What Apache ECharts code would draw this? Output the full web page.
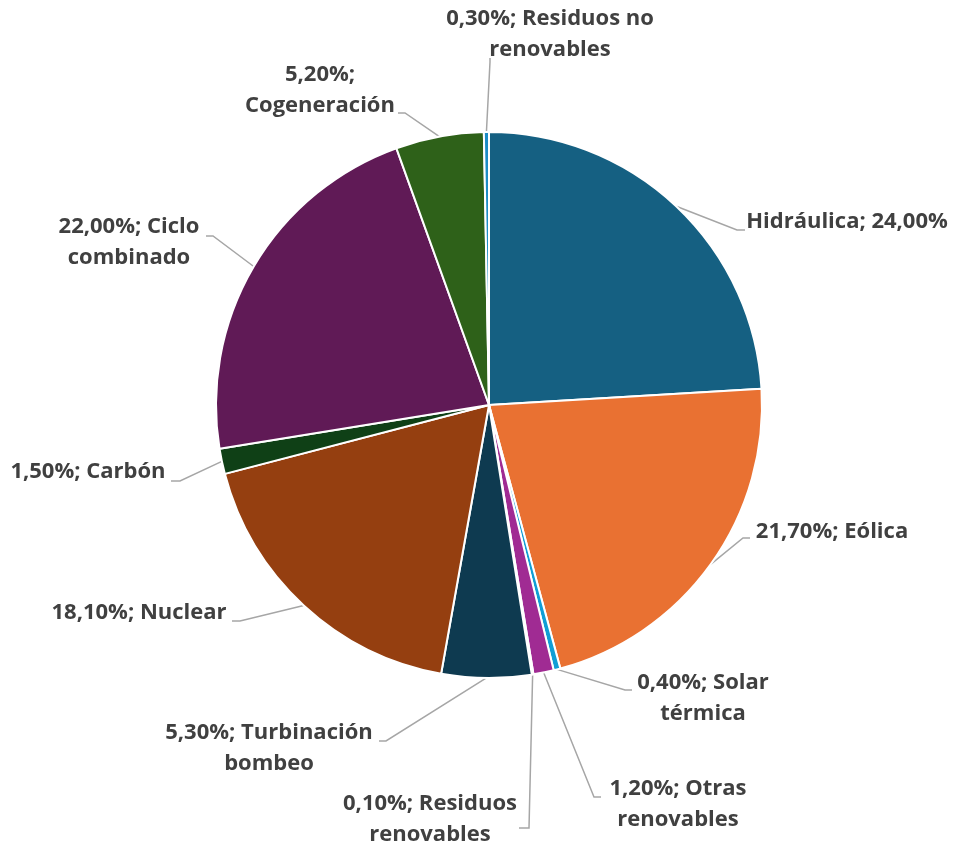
<!DOCTYPE html>
<html><head><meta charset="utf-8">
<script src="https://cdn.jsdelivr.net/npm/echarts@6/dist/echarts.min.js"></script>
<style>html,body{margin:0;padding:0;background:#fff}#c{width:955px;height:850px}</style>
</head><body><div id="c"></div>
<script>
var categories = ['Hidráulica','Eólica','Solar térmica','Otras renovables','Residuos renovables','Turbinación bombeo','Nuclear','Carbón','Ciclo combinado','Cogeneración','Residuos no renovables'];
var values = [24.00, 21.70, 0.40, 1.20, 0.10, 5.30, 18.10, 1.50, 22.00, 5.20, 0.30];
var colors = ['#156082','#E97132','#0F9ED5','#A02B93','#4EA72E','#0E3A50','#953F10','#0F4016','#601A56','#2E6119','#1C8CC6'];
var labelTexts = ['Hidráulica; 24,00%','21,70%; Eólica','0,40%; Solar\ntérmica','1,20%; Otras\nrenovables','0,10%; Residuos\nrenovables','5,30%; Turbinación\nbombeo','18,10%; Nuclear','1,50%; Carbón','22,00%; Ciclo\ncombinado','5,20%;\nCogeneración','0,30%; Residuos no\nrenovables'];

// label layout: text center x,y ; leader bend and end points
var labelPos = [
  {x:847, y:222, pts:[[737,230],[745,230]]},
  {x:832, y:532, pts:[[743,538],[750,538]]},
  {x:703, y:698, pts:[[625,690],[632,690]]},
  {x:678, y:804, pts:[[594,797],[601,797]]},
  {x:430, y:819, pts:[[529,828],[519,828]]},
  {x:269, y:748, pts:[[386,741],[379,741]]},
  {x:139, y:613, pts:[[240,621],[232,621]]},
  {x:88,  y:472, pts:[[180,481],[171,481]]},
  {x:129, y:242, pts:[[213,236],[206,236]]},
  {x:320, y:90,  pts:[[405,113],[398,113]]},
  {x:550, y:34,  pts:[[490,62],[490,58]]}
];

var data = categories.map(function(c,i){
  return {name:c, value:values[i], itemStyle:{color:colors[i]}, label:{formatter:labelTexts[i]}};
});

var chart = echarts.init(document.getElementById('c'));
chart.setOption({
  animation:false,
  series:[{
    type:'pie',
    center:[489,405],
    radius:[0,273],
    startAngle:90,
    clockwise:true,
    avoidLabelOverlap:false,
    minAngle:0,
    data:data,
    itemStyle:{borderColor:'#fff', borderWidth:2},
    label:{show:true, position:'outside', color:'#404040', fontFamily:'Open Sans', fontWeight:'bold', fontSize:22, lineHeight:31, align:'center'},
    labelLine:{show:true, length:20, length2:10, lineStyle:{color:'#A6A6A6', width:1.5}},
    labelLayout:function(p){
      var lp = labelPos[p.dataIndex];
      var start = p.labelLinePoints ? p.labelLinePoints[0] : lp.pts[0];
      return {x:lp.x, y:lp.y, align:'center', verticalAlign:'middle', labelLinePoints:[start, lp.pts[0], lp.pts[1]]};
    }
  }]
});
</script></body></html>
